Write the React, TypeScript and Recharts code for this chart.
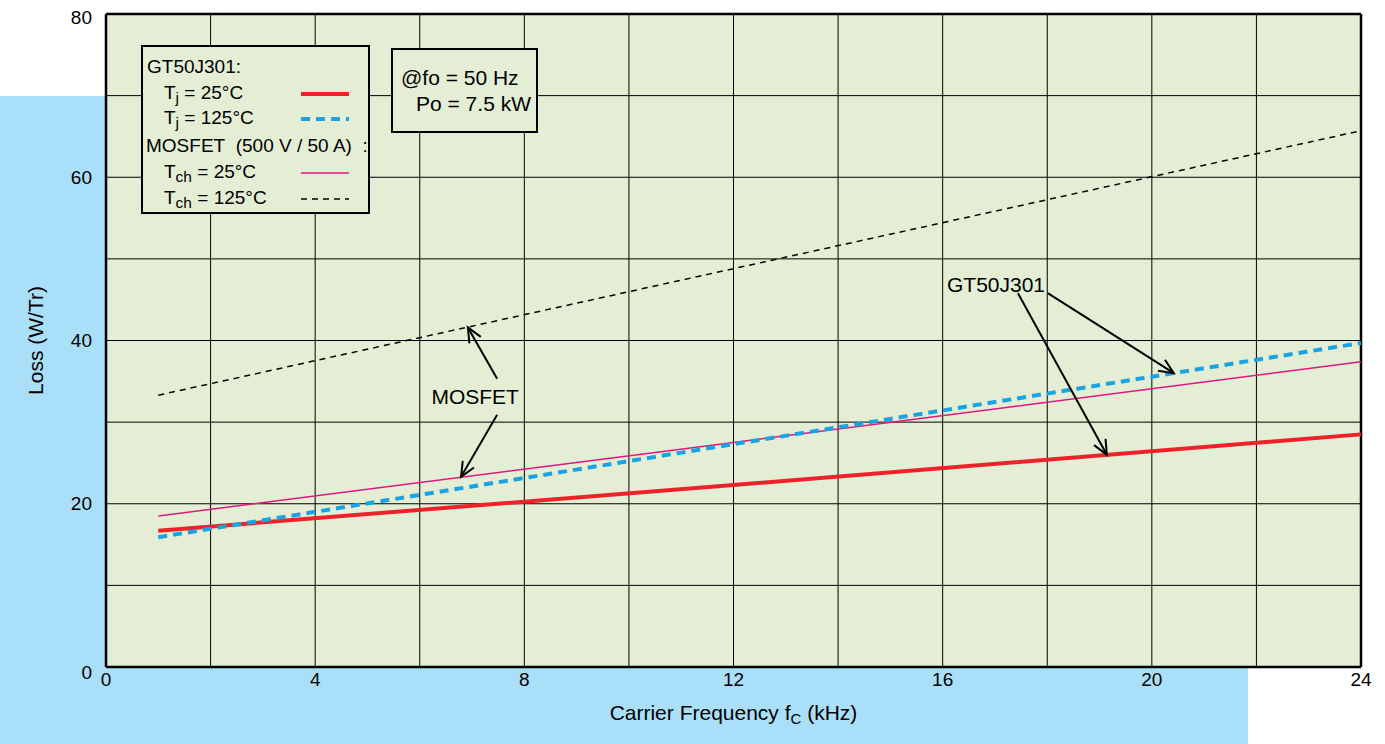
import React from 'react';
import {
  LineChart,
  Line,
  XAxis,
  YAxis,
  CartesianGrid,
  ReferenceLine,
  ReferenceDot,
} from 'recharts';

// carrier frequency (kHz) and loss per transistor (W/Tr)
const freq = [1, 12, 24];
const igbt25 = [16.7, 22.3, 28.5];
const igbt125 = [15.9, 27.3, 39.7];
const mos25 = [18.5, 27.5, 37.4];
const mos125 = [33.3, 48.8, 65.7];

const xTicks = [0, 2, 4, 6, 8, 10, 12, 14, 16, 18, 20, 22, 24];
const yTicks = [0, 10, 20, 30, 40, 50, 60, 70, 80];

// callouts: [x1, y1, x2, y2] in data units
const igbtArrows = [
  [17.44, 45.8, 19.14, 26.0],
  [18.01, 45.8, 20.42, 36.0],
];
const mosArrows = [
  [7.48, 35.3, 6.92, 41.6],
  [7.48, 30.9, 6.79, 23.3],
];

const FONT = '"Liberation Sans", Arial, sans-serif';
const GREEN = '#e4eed4';
const SKY = '#aadff9';
const RED = '#ee2229';
const CYAN = '#1aa3e3';
const PINK = '#e5157f';

const data = freq.map((f, i) => ({
  f,
  igbt25: igbt25[i],
  igbt125: igbt125[i],
  mos25: mos25[i],
  mos125: mos125[i],
}));

function Arrow(props: any) {
  const { x1, y1, x2, y2 } = props;
  const a = Math.atan2(y2 - y1, x2 - x1);
  const len = 16;
  const spread = 0.42;
  const h1 = { x: x2 - len * Math.cos(a - spread), y: y2 - len * Math.sin(a - spread) };
  const h2 = { x: x2 - len * Math.cos(a + spread), y: y2 - len * Math.sin(a + spread) };
  return (
    <g stroke="#000" strokeWidth={2} fill="none">
      <line x1={x1} y1={y1} x2={x2} y2={y2} />
      <polyline points={`${h1.x},${h1.y} ${x2},${y2} ${h2.x},${h2.y}`} />
    </g>
  );
}

const calloutText = (txt: string) => (p: any) => (
  <text
    x={p.cx}
    y={p.cy}
    textAnchor="middle"
    dominantBaseline="central"
    fontFamily={FONT}
    fontSize={21}
    fill="#000"
  >
    {txt}
  </text>
);

// y tick: the end labels sit a little below their grid line in the original
function YTick(props: any) {
  const { x, y, payload } = props;
  const v = payload.value;
  if (v % 20 !== 0) return null;
  const shift = v === 0 ? 5 : v === 80 ? 3 : 0;
  return (
    <text x={x} y={y + shift} textAnchor="end" dominantBaseline="central" fontFamily={FONT} fontSize={19} fill="#000">
      {v}
    </text>
  );
}

function Sub({ main, sub, rest }: { main: string; sub: string; rest: string }) {
  return (
    <span>
      {main}
      <span style={{ fontSize: 15.5, position: 'relative', top: 4 }}>{sub}</span>
      {rest}
    </span>
  );
}

const legendRows = [
  { y: 10, indent: 4, content: <span>GT50J301:</span> },
  { y: 36, indent: 21, content: <Sub main="T" sub="j" rest=" = 25°C" />, line: { color: RED, w: 4, dash: '' } },
  { y: 61, indent: 21, content: <Sub main="T" sub="j" rest=" = 125°C" />, line: { color: CYAN, w: 4, dash: '9 6' } },
  { y: 89, indent: 3, content: <span>MOSFET&nbsp; (500 V / 50 A) &nbsp;:</span> },
  { y: 115, indent: 21, content: <Sub main="T" sub="ch" rest=" = 25°C" />, line: { color: PINK, w: 1.5, dash: '' } },
  { y: 141, indent: 21, content: <Sub main="T" sub="ch" rest=" = 125°C" />, line: { color: '#000', w: 1.5, dash: '6 5' } },
];

export default function App() {
  return (
    <div
      style={{
        position: 'absolute',
        left: 0,
        top: 0,
        width: 1385,
        height: 744,
        background: '#fff',
        overflow: 'hidden',
        fontFamily: FONT,
      }}
    >
      <div style={{ position: 'absolute', left: 0, top: 96, width: 1248, height: 648, background: SKY }} />
      <div style={{ position: 'absolute', left: 0, top: 0 }}>
        <LineChart width={1385} height={744} data={data} margin={{ top: 14, right: 24, bottom: 0, left: 0 }}>
          <CartesianGrid stroke="#000" strokeWidth={1} fill={GREEN} fillOpacity={1} />
          <XAxis
            dataKey="f"
            type="number"
            domain={[0, 24]}
            ticks={xTicks}
            interval={0}
            tickFormatter={(v: number) => (v % 4 === 0 ? String(v) : '')}
            tickLine={false}
            tickSize={6}
            tickMargin={0}
            height={77}
            axisLine={{ stroke: '#000', strokeWidth: 2.5 }}
            tick={{ fill: '#000', fontSize: 19, fontFamily: FONT }}
            label={{
              content: (p: any) => {
                const vb = p.viewBox;
                return (
                  <text x={vb.x + vb.width / 2} y={vb.y + 53} textAnchor="middle" fontFamily={FONT} fontSize={21} fill="#000">
                    Carrier Frequency f
                    <tspan fontSize={15} dy={4}>C</tspan>
                    <tspan dy={-4}> (kHz)</tspan>
                  </text>
                );
              },
            }}
          />
          <YAxis
            type="number"
            domain={[0, 80]}
            ticks={yTicks}
            interval={0}
            tickLine={false}
            tickMargin={8}
            width={106}
            axisLine={{ stroke: '#000', strokeWidth: 2.5 }}
            tick={<YTick />}
            label={{
              content: (p: any) => {
                const vb = p.viewBox;
                const cy = vb.y + vb.height / 2;
                return (
                  <text
                    x={35}
                    y={cy}
                    transform={`rotate(-90 35 ${cy})`}
                    textAnchor="middle"
                    dominantBaseline="central"
                    fontFamily={FONT}
                    fontSize={21}
                    fill="#000"
                  >
                    Loss (W/Tr)
                  </text>
                );
              },
            }}
          />
          <ReferenceLine y={80} stroke="#000" strokeWidth={2.5} />
          <ReferenceLine x={24} stroke="#000" strokeWidth={2.5} />

          <Line dataKey="mos125" stroke="#000" strokeWidth={1.5} strokeDasharray="6 5" dot={false} isAnimationActive={false} />
          <Line dataKey="mos25" stroke={PINK} strokeWidth={1.5} dot={false} isAnimationActive={false} />
          <Line dataKey="igbt25" stroke={RED} strokeWidth={4} dot={false} isAnimationActive={false} />
          <Line dataKey="igbt125" stroke={CYAN} strokeWidth={4} strokeDasharray="9 6" dot={false} isAnimationActive={false} />

          {[...igbtArrows, ...mosArrows].map((s, i) => (
            <ReferenceLine
              key={`arr${i}`}
              segment={[
                { x: s[0], y: s[1] },
                { x: s[2], y: s[3] },
              ]}
              shape={Arrow}
            />
          ))}
          <ReferenceDot x={17.02} y={46.9} r={0} shape={calloutText('GT50J301')} />
          <ReferenceDot x={7.06} y={33.2} r={0} shape={calloutText('MOSFET')} />
        </LineChart>
      </div>

      {/* legend box */}
      <div
        style={{
          position: 'absolute',
          left: 141,
          top: 45,
          width: 225,
          height: 165,
          border: '2.5px solid #000',
          background: GREEN,
          fontSize: 19,
          color: '#000',
        }}
      >
        {legendRows.map((r, i) => (
          <div key={i} style={{ position: 'absolute', left: r.indent, top: r.y, whiteSpace: 'nowrap', lineHeight: '20px' }}>
            {r.content}
          </div>
        ))}
        {legendRows.map((r, i) =>
          r.line ? (
            <svg key={`l${i}`} style={{ position: 'absolute', left: 158, top: r.y + 6 }} width={50} height={10}>
              <line x1={0} y1={5} x2={48} y2={5} stroke={r.line.color} strokeWidth={r.line.w} strokeDasharray={r.line.dash || undefined} />
            </svg>
          ) : null
        )}
      </div>

      {/* condition box */}
      <div
        style={{
          position: 'absolute',
          left: 391,
          top: 48,
          width: 143,
          height: 81,
          border: '2.5px solid #000',
          background: GREEN,
          fontSize: 21,
          color: '#000',
          lineHeight: '22px',
        }}
      >
        <div style={{ position: 'absolute', left: 8, top: 17, whiteSpace: 'nowrap' }}>@fo = 50 Hz</div>
        <div style={{ position: 'absolute', left: 23, top: 43, whiteSpace: 'nowrap' }}>Po = 7.5 kW</div>
      </div>
    </div>
  );
}
